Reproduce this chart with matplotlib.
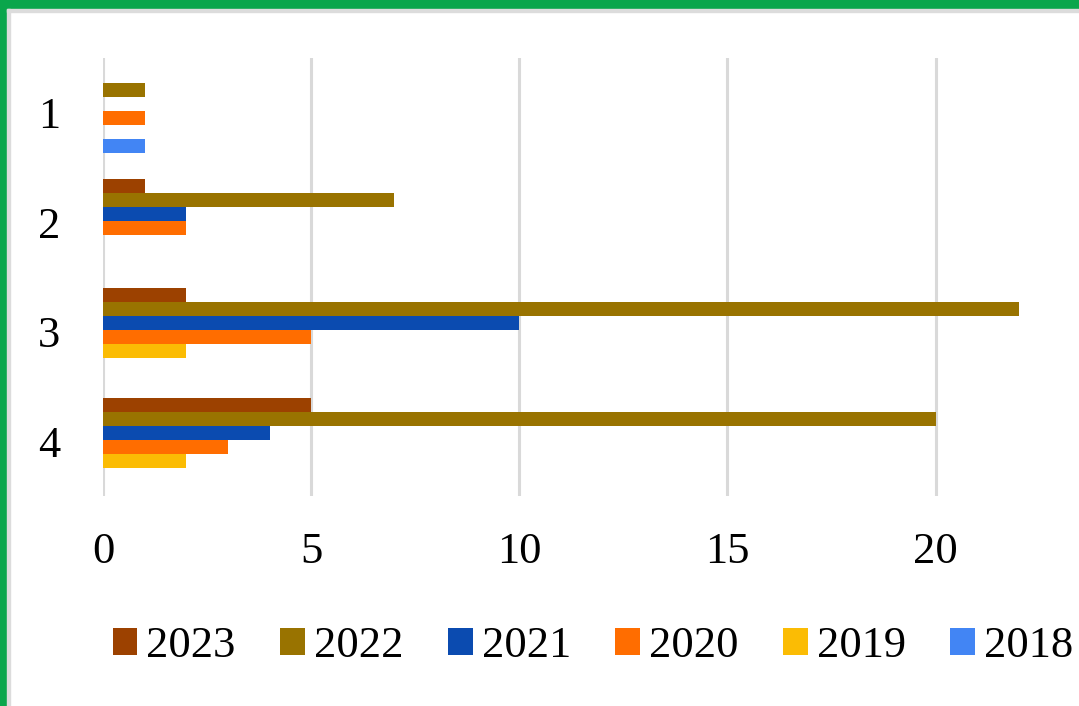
import matplotlib
matplotlib.use("Agg")
import matplotlib.pyplot as plt
from matplotlib.patches import Rectangle
import numpy as np

plt.rcParams['font.family'] = ['Liberation Serif', 'DejaVu Serif']

categories = ["1", "2", "3", "4"]
years = ["2023", "2022", "2021", "2020", "2019", "2018"]
colors = ["#9C4100", "#997300", "#0B4BB0", "#FF6D00", "#FBBC04", "#4285F4"]
values = {
    "2023": [0, 1, 2, 5],
    "2022": [1, 7, 22, 20],
    "2021": [0, 2, 10, 4],
    "2020": [1, 2, 5, 3],
    "2019": [0, 0, 2, 2],
    "2018": [1, 0, 0, 0],
}

W, H = 1079, 706
fig = plt.figure(figsize=(W / 100, H / 100), dpi=100)

# green frame on top / left with a thin grey inner line
fig.patches.append(Rectangle((0, 1 - 9 / H), 1, 9 / H, transform=fig.transFigure, color="#0AA64C", zorder=0))
fig.patches.append(Rectangle((0, 0), 7 / W, 1, transform=fig.transFigure, color="#0AA64C", zorder=0))
fig.patches.append(Rectangle((7 / W, 1 - 12 / H), 1, 3 / H, transform=fig.transFigure, color="#DCDCDC", zorder=0))
fig.patches.append(Rectangle((7 / W, 0), 3 / W, 1 - 9 / H, transform=fig.transFigure, color="#DCDCDC", zorder=0))

px_per_unit = 41.63
left = 103
ax = fig.add_axes([left / W, 1 - 496 / H, 25 * px_per_unit / W, 438 / H])

y = np.arange(len(categories))
bh = 0.128
for i, yr in enumerate(years):
    ax.barh(y - (2.6 - i) * bh, values[yr], height=bh, color=colors[i], label=yr, zorder=3)

ax.set_xlim(0, 25)
ax.set_ylim(3.5, -0.5)
ax.set_xticks([0, 5, 10, 15, 20])
ax.set_yticks(y)
ax.set_yticklabels(categories)
ax.grid(axis="x", color="#D9D9D9", linewidth=2.2, zorder=0)
ax.tick_params(length=0, labelsize=32)
ax.tick_params(axis="y", pad=31)
ax.tick_params(axis="x", pad=26)
for s in ax.spines.values():
    s.set_visible(False)

fig.legend(loc="center", bbox_to_anchor=(593 / W, 1 - 646 / H), ncol=6, frameon=False,
           fontsize=32, handlelength=0.56, handleheight=0.56, handletextpad=0.2,
           columnspacing=1.0, borderaxespad=0)

fig.savefig("out.png", dpi=100)
